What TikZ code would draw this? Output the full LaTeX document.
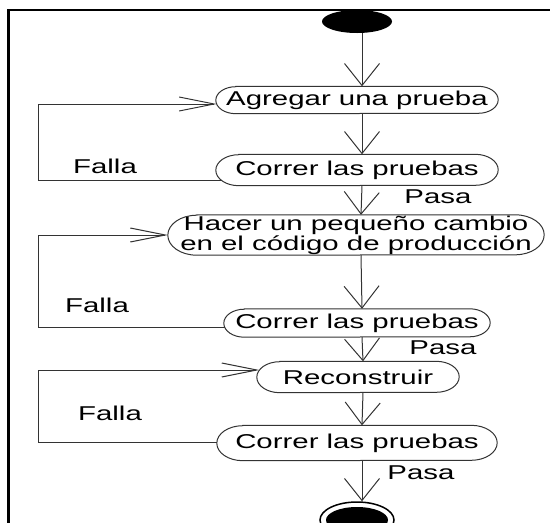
\documentclass[tikz,border=0pt]{standalone}
\usepackage{fontspec}
\setmainfont{Liberation Sans}[FakeStretch=1.47]
\usetikzlibrary{arrows.meta,shapes.geometric,calc}

% outline of an activity: straight top and bottom, elliptic ends
\newcommand\stadiumoutline[3]{%
  \draw[ovalline] ([xshift=#2pt]#1.north west) -- ([xshift=-#2pt]#1.north east)
    arc[start angle=90,end angle=-90,x radius=#2pt,y radius=#3pt]
    -- ([xshift=#2pt]#1.south west)
    arc[start angle=270,end angle=90,x radius=#2pt,y radius=#3pt] -- cycle;}

\tikzset{
  edge/.style={draw=black!80, line width=1pt},
  down/.style={edge, -{Straight Barb[length=22pt,width=35pt,line width=1pt]}},
  back/.style={edge, -{Straight Barb[length=35pt,width=14pt,line width=1pt]}},
  activity/.style={rectangle, inner sep=0pt, font=\fontsize{20}{20}\selectfont, text=black, align=center},
  ovalline/.style={draw=black!80, line width=1pt},
  guard/.style={font=\fontsize{20}{24}\selectfont, inner sep=0pt, text=black},
  frameline/.style={line width=2.6pt, draw=black},
}

\begin{document}
\begin{tikzpicture}[x=1pt,y=1pt]
\useasboundingbox (0,0) rectangle (550,-523);

% frame
\draw[frameline] (8.7,-523) -- (8.7,-10) -- (550,-10);

% initial and final states
\node[ellipse, fill=black, minimum width=70pt, minimum height=23pt, inner sep=0pt] (start) at (357,-21.5) {};
\node[ellipse, draw=black, line width=1.5pt, minimum width=74pt, minimum height=36pt, inner sep=0pt] (final) at (357,-520) {};
\node[ellipse, fill=black, minimum width=62pt, minimum height=26pt, inner sep=0pt] (finalcore) at (final) {};

% activities
\node[activity, minimum width=282pt, minimum height=27pt] (ag) at (357,-100) {Agregar una prueba};
\stadiumoutline{ag}{20}{13.5}
\node[activity, minimum width=282pt, minimum height=31pt] (c1) at (357,-170) {Correr las pruebas};
\stadiumoutline{c1}{23}{15.5}
\node[activity, minimum width=376pt, minimum height=40pt] (ha) at (356,-235) {Hacer un pequeño cambio\\en el código de producción};
\stadiumoutline{ha}{29}{20}
\node[activity, minimum width=266pt, minimum height=28pt] (c2) at (357,-323) {Correr las pruebas};
\stadiumoutline{c2}{20.5}{14}
\node[activity, minimum width=202pt, minimum height=31pt] (re) at (358,-377) {Reconstruir};
\stadiumoutline{re}{23}{15.5}
\node[activity, minimum width=280pt, minimum height=35pt] (c3) at (357,-443) {Correr las pruebas};
\stadiumoutline{c3}{26}{17.5}

% guards
\node[guard] (f1) at (105,-166) {Falla};
\node[guard] (p1) at (438,-197) {Pasa};
\node[guard] (f2) at (97,-305) {Falla};
\node[guard] (p2) at (443,-348) {Pasa};
\node[guard] (f3) at (110,-413) {Falla};
\node[guard] (p3) at (421,-473) {Pasa};

% main flow
\draw[down] ([xshift=5pt]start.south) -- ([xshift=5pt]ag.north);
\draw[down] ([xshift=5pt]ag.south) -- ([xshift=5pt]c1.north);
\draw[down] ([xshift=5pt]c1.south) -- ([xshift=5pt]ha.north);
\draw[down] ([xshift=5pt]ha.south) -- ([xshift=5pt]c2.north);
\draw[down] ([xshift=5pt]c2.south) -- ([xshift=5pt]re.north);
\draw[down] ([xshift=5pt]re.south) -- ([xshift=5pt]c3.north);
\draw[down] ([xshift=5pt]c3.south) -- ([xshift=5pt]final.north);

% failure loops
\coordinate (rail) at (38.6,0);
\coordinate (l1a) at ([shift={(5.15pt,-10pt)}]c1.west);
\coordinate (l1b) at ([shift={(0.9pt,-4pt)}]ag.west);
\draw[back] (l1a) -- (l1a -| rail) |- (l1b);
\coordinate (l2a) at ([shift={(0.85pt,-4pt)}]c2.west);
\draw[back] (l2a) -- (l2a -| rail) |- (ha.west);
\coordinate (l3a) at ([yshift=1pt]c3.west);
\coordinate (l3b) at ([shift={(2.5pt,7pt)}]re.west);
\draw[back] (l3a) -- (l3a -| rail) |- (l3b);
\end{tikzpicture}
\end{document}
